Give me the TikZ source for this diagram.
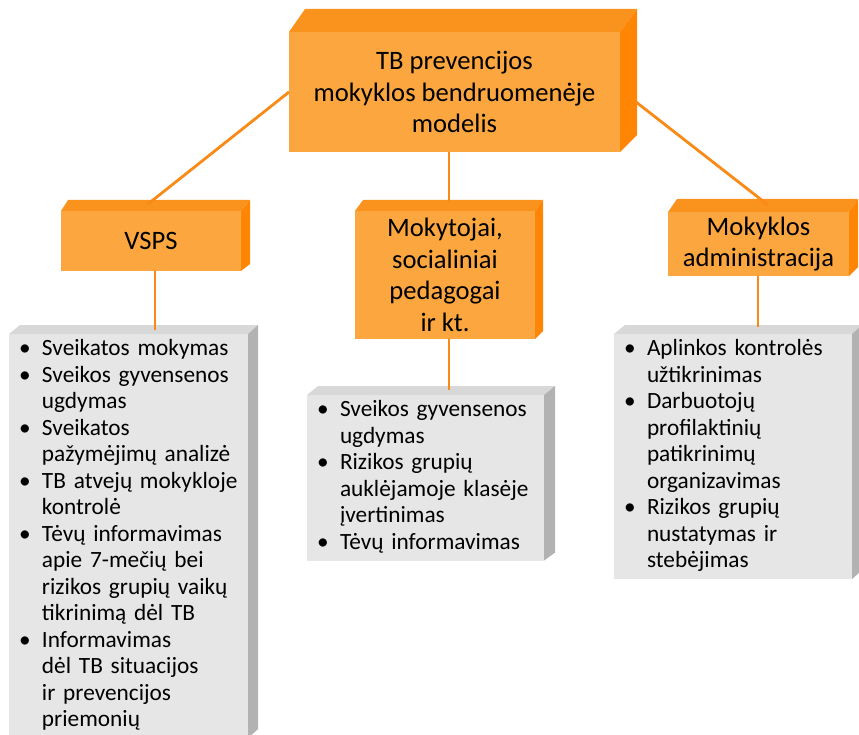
\documentclass[tikz,border=0pt]{standalone}
\usepackage{fontspec}
\setmainfont{Carlito}
\usepackage{tikz}
\usetikzlibrary{calc}
\definecolor{OF}{RGB}{252,166,64}
\definecolor{OT}{RGB}{250,146,30}
\definecolor{OS}{RGB}{255,133,5}
\definecolor{GF}{RGB}{230,230,230}
\definecolor{GT}{RGB}{216,216,216}
\definecolor{GS}{RGB}{178,178,178}
\definecolor{L}{RGB}{250,138,22}
\newcommand{\boxfaces}[7]{
  \fill[#6] (#1.north west)--++(#2,#4)--($(#1.north east)+(#3,#4)$)--(#1.north east)--cycle;
  \fill[#7] (#1.north east)--++(#3,#4)--($(#1.south east)+(#3,#5)$)--(#1.south east)--cycle;
}
\newcommand{\drawlink}{\draw[L, line width=2.8pt]}
\newcommand{\bulletcell}{\makebox[23pt][l]{\textbullet}}
\tikzset{
  orangebox/.style={fill=OF, inner sep=0pt, outer sep=0pt, align=center, font=\fontsize{26.6}{31.5}\selectfont},
  graybox/.style={fill=GF, inner xsep=10pt, inner ysep=3.3pt, outer sep=0pt, anchor=north west, align=left, font=\fontsize{23.3}{26.5}\selectfont}
}
\begin{document}
\begin{tikzpicture}[x=1pt,y=-1pt]
\useasboundingbox (0,0) rectangle (859,735);
% orange boxes
\node[orangebox, minimum width=331pt, minimum height=120pt] (top) at (454.5,92) {TB prevencijos\\mokyklos bendruomenėje\\modelis};
\node[orangebox, minimum width=180pt, minimum height=60pt] (vsps) at (151,241) {VSPS};
\node[orangebox, minimum width=180pt, minimum height=128pt] (staff) at (445,275) {Mokytojai,\\socialiniai\\pedagogai\\ir kt.};
\node[orangebox, minimum width=181pt, minimum height=64pt] (admin) at (758.5,244) {Mokyklos\\administracija};
% gray lists
\node[graybox, text width=219pt] (g1) at (9,334) {\begin{tabular}{@{}l@{}l@{}}
\bulletcell & Sveikatos mokymas\\
\bulletcell & Sveikos gyvensenos\\
 & ugdymas\\
\bulletcell & Sveikatos\\
 & pažymėjimų analizė\\
\bulletcell & TB atvejų mokykloje\\
 & kontrolė\\
\bulletcell & Tėvų informavimas\\
 & apie 7-mečių bei\\
 & rizikos grupių vaikų\\
 & tikrinimą dėl TB\\
\bulletcell & Informavimas\\
 & dėl TB situacijos\\
 & ir prevencijos\\
 & priemonių
\end{tabular}};
\node[graybox, text width=217pt] (g2) at (307,395) {\begin{tabular}{@{}l@{}l@{}}
\bulletcell & Sveikos gyvensenos\\
 & ugdymas\\
\bulletcell & Rizikos grupių\\
 & auklėjamoje klasėje\\
 & įvertinimas\\
\bulletcell & Tėvų informavimas
\end{tabular}};
\node[graybox, text width=218pt] (g3) at (614,334) {\begin{tabular}{@{}l@{}l@{}}
\bulletcell & Aplinkos kontrolės\\
 & užtikrinimas\\
\bulletcell & Darbuotojų\\
 & profilaktinių\\
 & patikrinimų\\
 & organizavimas\\
\bulletcell & Rizikos grupių\\
 & nustatymas ir\\
 & stebėjimas
\end{tabular}};
% top and side faces
\boxfaces{top}{16}{17}{-23}{-17}{OT}{OS}
\boxfaces{vsps}{7}{9}{-11}{-7}{OT}{OS}
\boxfaces{staff}{8}{8}{-11}{-8}{OT}{OS}
\boxfaces{admin}{9}{9}{-13}{-9}{OT}{OS}
\boxfaces{g1}{11}{10}{-9}{-9}{GT}{GS}
\boxfaces{g2}{11}{11}{-9}{-8}{GT}{GS}
\boxfaces{g3}{11}{10}{-9}{-9}{GT}{GS}
% links
\drawlink (top.west) -- ($(vsps.north)+(-3,-7)$);
\drawlink ($(top.south)+(-5.5,0)$) -- ($(staff.north)+(4,-8)$);
\drawlink ($(top.east)+(16,10)$) -- ($(admin.north)+(9.5,-7)$);
\drawlink ($(vsps.south)+(4,0)$) -- ($(g1.north)+(26.5,-4)$);
\drawlink ($(staff.south)+(4,0)$) -- ($(g2.north)+(23.5,-5)$);
\drawlink ($(admin.south)+(-0.5,0)$) -- ($(g3.north)+(25,-7)$);
\end{tikzpicture}
\end{document}
